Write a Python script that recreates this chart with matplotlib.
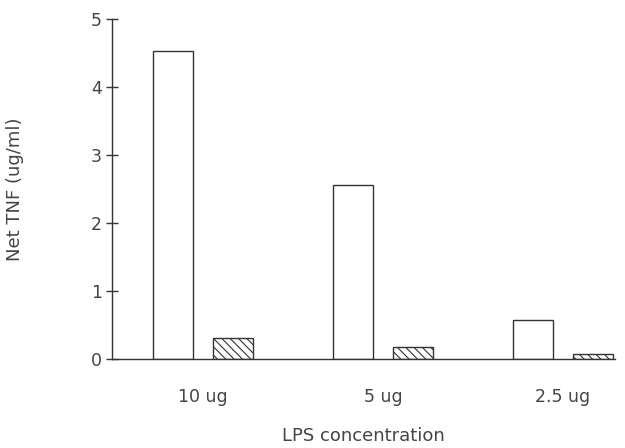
import matplotlib.pyplot as plt
import numpy as np

# Data
categories = ['10 ug', '5 ug', '2.5 ug']
open_bars = [4.53, 2.56, 0.57]
hatched_bars = [0.31, 0.18, 0.07]

plt.rcParams['hatch.linewidth'] = 0.8
plt.rcParams['hatch.color'] = '#333333'

fig = plt.figure(figsize=(6.25, 4.48), dpi=100)
ax = fig.add_axes([0.179, 0.199, 0.805, 0.759])

x = np.arange(len(categories))
w = 0.222
off = 0.167
ax.bar(x - off, open_bars, w, facecolor='white', edgecolor='#333333', linewidth=1)
ax.bar(x + off, hatched_bars, w, facecolor='white', edgecolor='#333333', linewidth=1,
       hatch='\\\\\\\\')

ax.set_xlim(-0.506, 2.289)
ax.set_ylim(0, 5)
ax.set_yticks([0, 1, 2, 3, 4, 5])
ax.set_xticks(x)
ax.set_xticklabels(categories)

for s in ['top', 'right']:
    ax.spines[s].set_visible(False)
for s in ['left', 'bottom']:
    ax.spines[s].set_color('#333333')
    ax.spines[s].set_linewidth(1)

ax.tick_params(axis='y', direction='inout', length=8, width=1, color='#333333',
               labelsize=12.5, labelcolor='#444444', pad=3)
ax.tick_params(axis='x', length=0, labelsize=12.5, labelcolor='#444444', pad=21)

ax.set_ylabel('Net TNF (ug/ml)', fontsize=13, color='#444444', labelpad=48)
ax.set_xlabel('LPS concentration', fontsize=13, color='#444444', labelpad=15)

plt.savefig('out.png', dpi=100)
